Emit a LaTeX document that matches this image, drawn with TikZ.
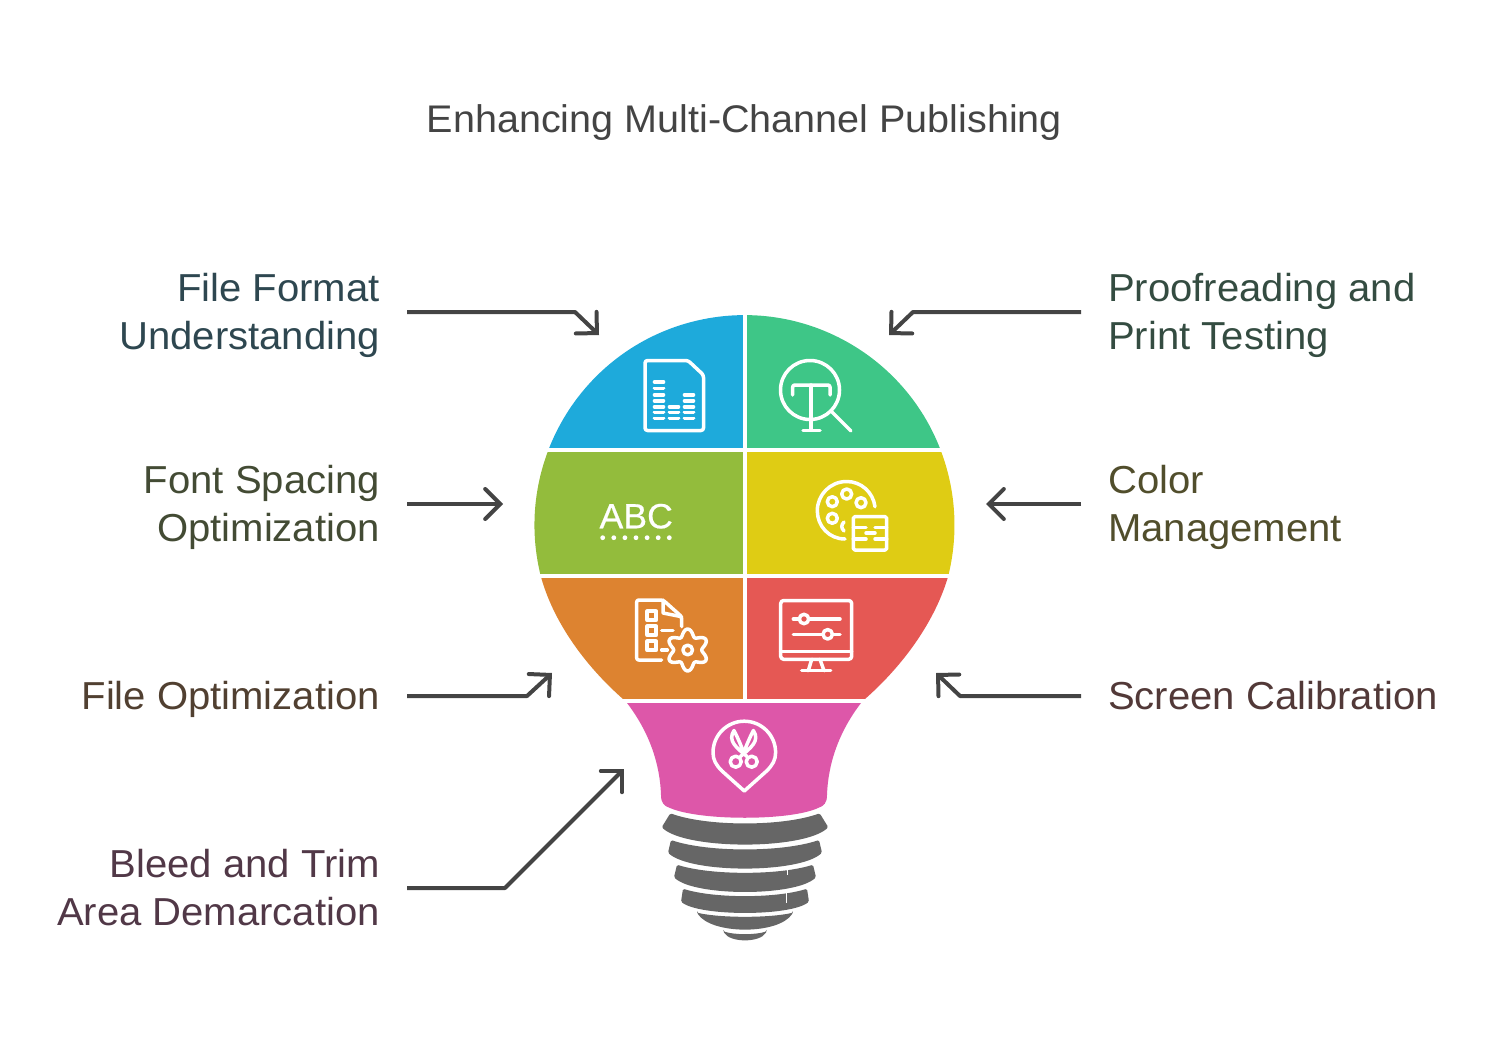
\documentclass[tikz,border=0pt]{standalone}
\usepackage{fontspec}
\setmainfont[FakeStretch=1.027]{Liberation Sans}
\newfontfamily\abcfont[FakeStretch=1.02,FakeBold=0.5]{Liberation Sans}
\usetikzlibrary{arrows.meta}
\definecolor{cblue}{HTML}{1EAADB}
\definecolor{cgreen}{HTML}{3EC687}
\definecolor{colive}{HTML}{93BC3C}
\definecolor{cyellow}{HTML}{DFCC14}
\definecolor{corange}{HTML}{DD8330}
\definecolor{cred}{HTML}{E55854}
\definecolor{cpink}{HTML}{DD57A9}
\definecolor{cbase}{HTML}{666666}
\definecolor{cline}{HTML}{444444}
\newcommand{\lst}{\rule[-11pt]{0pt}{48pt}}
\tikzset{every node/.style={draw=none,inner ysep=0pt,font=\fontsize{39}{48}\selectfont},
  labl/.style={anchor=east,align=right,inner xsep=27pt},
  labr/.style={anchor=west,align=left,inner xsep=27pt},
  conn/.style={cline,line width=4pt,line join=round,-{Straight Barb[length=15pt,width=30pt,line cap=round]}},
  icon/.style={white,line width=3.5pt,line cap=round,line join=round}}

\begin{document}
\begin{tikzpicture}[x=1pt,y=-1pt]
\useasboundingbox (0,0) rectangle (1488,1038);
\node[text=cline,font=\fontsize{38.5}{48}\selectfont] (title) at (744.5,123) {Enhancing Multi-Channel Publishing};

% upper part of the bulb
\begin{scope}
\clip (623,699) .. controls (590,670) and (555,627) .. (541,577)
  arc[start angle=165.7,end angle=374.3,radius=210]
  .. controls (933,627) and (898,670) .. (865,699) -- cycle;
\foreach \xa/\ya/\xb/\yb/\col in {500/300/742.5/448/cblue,746.5/300/1000/448/cgreen,
  500/452/742.5/573.5/colive,746.5/452/1000/573.5/cyellow,
  500/577.5/742.5/699/corange,746.5/577.5/1000/699/cred}
  \fill[\col] (\xa,\ya) rectangle (\xb,\yb);
\end{scope}
\fill[cpink] (627,703) -- (861,703) .. controls (838,733) and (828,765) .. (827,795)
  .. controls (827,803) and (824,806) .. (818,808) .. controls (790,821) and (700,821) .. (670,808)
  .. controls (664,806) and (661,803) .. (661,795) .. controls (660,765) and (650,733) .. (627,703) -- cycle;

% screw rings
\foreach \xa/\ya/\yt/\xb/\yb/\yl in {74.7/813.3/823.3/83.3/827.3/844.3,74/840/849.3/77/852.7/868.3,
  68/864.7/872.7/71/877.3/891.7,62/888.7/896/64/901.7/912.7,48/912.7/916.7/48/912.7/929.3,21.7/931.3/934/21.7/931.3/940}
  \fill[cbase,rounded corners=1.5pt] ({745-\xa},\ya) .. controls ({745-\xa/2},{(\yt-.25*\ya)/.75}) and ({745+\xa/2},{(\yt-.25*\ya)/.75}) .. ({745+\xa},\ya)
    -- ({745+\xb},\yb) .. controls ({745+\xb*.7},{(\yl-.25*\yb)/.75}) and ({745-\xb*.7},{(\yl-.25*\yb)/.75}) .. ({745-\xb},\yb) -- cycle;
\draw[white,line width=.7pt] (787,870) -- (787,875);
\draw[white,line width=.7pt] (786,893) -- (786,903);

% file icon
\draw[icon,rounded corners=2.5pt] (645,360.5) -- (688,360.5) -- (703.5,375) -- (703.5,430.5) -- (645,430.5) -- cycle;
\foreach \x/\yy in {659/382,659/388.3,659/394.7,659/400.7,659/406.7,659/412.3,659/418.3,
  674/406.7,674/412.3,674/418.3,689/394.7,689/400.7,689/406.7,689/412.3,689/418.3}
  \draw[icon,line width=3.6pt] ({\x-4.5},\yy) -- ({\x+4.5},\yy);

% type search icon
\draw[icon] (810,390) circle[radius=29.5];
\draw[icon] (831.7,411.7) -- (851,431);
\draw[icon,rounded corners=2pt] (792.7,395) -- (792.7,385) -- (830,385) -- (830,395);
\draw[icon] (811,385) -- (811,430);
\draw[icon] (803,430.7) -- (820,430.7);

% ABC icon
\node[white,font=\fontsize{35}{35}\abcfont,inner sep=0pt,anchor=base] (abc) at (636.2,528.3) {ABC};
\foreach \i in {0,...,6}
  \fill[white] ({602.7+\i*11.1},537.7) circle[radius=2.4];

% palette icon
\draw[icon] (845,539) .. controls (829,539) and (817.3,526) .. (817.3,510.7)
  .. controls (817.3,495) and (830,481.5) .. (846.7,481.5) .. controls (861,481.5) and (873,492) .. (875,506.7);
\foreach \x/\yy in {832.3/501.7,846.7/494,861/502.7,832.3/518.3}
  \draw[icon] (\x,\yy) circle[radius=5];
\draw[icon] (844,522) .. controls (841,525) and (841,528) .. (844,531);
\draw[icon,rounded corners=1.5pt] (853.3,516.7) rectangle (886.7,550);
\draw[icon] (853.3,527.3) -- (866,527.3) (875,527.3) -- (886.7,527.3);
\draw[icon] (853.3,539) -- (866,539) (875,539) -- (886.7,539);
\draw[icon] (866,533) -- (875,533);

% checklist icon
\draw[icon,rounded corners=2pt] (661.7,660) -- (636.7,660) -- (636.7,600) -- (663,600) -- (681.7,616.7) -- (681.7,626.7);
\draw[icon] (663,600) -- (663,613) -- (681.7,616.7);
\foreach \yy in {615.7,630.7,645.7}
  \draw[icon] (647.2,{\yy-4.5}) rectangle (656.2,{\yy+4.5});
\draw[icon] (661.7,630.7) -- (673,630.7);
\draw[icon] (661.7,650) -- (667.3,650);
\draw[icon] plot[domain=0:360,samples=72,smooth] ({687.7+(17.5-3.5*cos(6*\x))*cos(\x)},{650+(17.5-3.5*cos(6*\x))*sin(\x)});
\draw[icon] (687.7,650) circle[radius=4.8];

% monitor icon
\draw[icon,rounded corners=3pt] (780.7,600.5) rectangle (851.7,659.3);
\draw[icon] (780.7,651.7) -- (851.7,651.7);
\draw[icon] (811.7,659.3) -- (808.3,670.7) (820,659.3) -- (824,670.7);
\draw[icon] (801.7,670.7) -- (830.7,670.7);
\draw[icon] (793.3,619) -- (840,619);
\draw[icon] (793.3,634.3) -- (840,634.3);
\draw[icon,fill=cred] (804,619) circle[radius=4.7];
\draw[icon,fill=cred] (827.7,634.3) circle[radius=4.7];

% scissors pin icon
\draw[icon] (744.3,791) -- (722,771) .. controls (716,765) and (713,760) .. (713,752.5)
  arc[start angle=180,end angle=360,radius=31.3] .. controls (775.6,760) and (772.6,765) .. (766.6,771) -- cycle;
\draw[icon] (735.7,761.7) circle[radius=5.5];
\draw[icon] (751.7,761.7) circle[radius=5.5];
\draw[icon] (747,756.5) .. controls (737,748) and (727,741) .. (734,730.5) .. controls (738,738) and (741,746) .. (743.7,752);
\draw[icon] (740.4,756.5) .. controls (750.4,748) and (760.4,741) .. (753.4,730.5) .. controls (749.4,738) and (746.4,746) .. (743.7,752);

% labels
\node[labl,text=black!55!cblue!40!cline] (ff) at (407,312) {\lst File Format\\\lst Understanding};
\node[labl,text=black!55!colive!40!cline] (fs) at (407,504) {\lst Font Spacing\\\lst Optimization};
\node[labl,text=black!55!corange!40!cline] (fo) at (407,696) {\lst File Optimization};
\node[labl,text=black!55!cpink!40!cline] (bt) at (407,888) {\lst Bleed and Trim\\\lst Area Demarcation};
\node[labr,text=black!55!cgreen!40!cline] (pp) at (1081,312) {\lst Proofreading and\\\lst Print Testing};
\node[labr,text=black!55!cyellow!40!cline] (cm) at (1081,504) {\lst Color\\\lst Management};
\node[labr,text=black!55!cred!40!cline] (sc) at (1081,696) {\lst Screen Calibration};

% arrows
\coordinate (ffk) at (575,312);
\coordinate (fft) at (599,335);
\coordinate (ppk) at (913,312);
\coordinate (ppt) at (889,335);
\coordinate (fok) at (527,696);
\coordinate (fot) at (552,673);
\coordinate (sck) at (960,696);
\coordinate (sct) at (936,673);
\coordinate (btk) at (505,888);
\coordinate (btt) at (624,769);
\coordinate (fst) at (503,504);
\coordinate (cmt) at (986,504);
\foreach \a/\b/\c in {ff.east/ffk/fft,pp.west/ppk/ppt,fo.east/fok/fot,sc.west/sck/sct,bt.east/btk/btt}
  \draw[conn] (\a) -- (\b) -- (\c);
\foreach \a/\b in {fs.east/fst,cm.west/cmt}
  \draw[conn] (\a) -- (\b);
\end{tikzpicture}
\end{document}
